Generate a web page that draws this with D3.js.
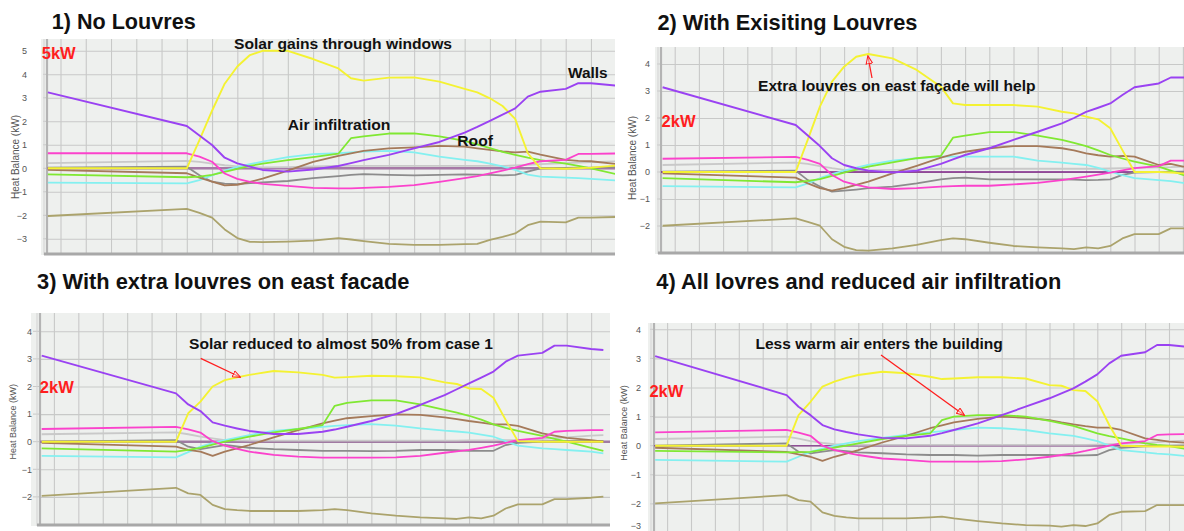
<!DOCTYPE html>
<html><head><meta charset="utf-8">
<script src="https://cdn.jsdelivr.net/npm/d3@7"></script>
<style>
html,body{margin:0;padding:0;background:#fff;}
svg{display:block;font-family:"Liberation Sans",Arial,sans-serif;}
</style>
</head><body>
<svg id="c" width="1184" height="531"></svg>
<script>
// ---- shared x values (hours) ----
const hours = [-0.5,5,5.5,6,6.5,7,7.5,8,9,10,11,11.5,12,13,14,15,16,16.5,17,17.5,18,18.5,19,20,20.5,21,22,22.5];

// ---- tick labels ----
const yTicks1 = [5,4,3,2,1,0,-1,-2,-3];
const yTicks2 = [4,3,2,1,0,-1,-2];
const yTicks3 = [4,3,2,1,0,-1,-2];
const yTicks4 = [4,3,2,1,0,-1,-2,-3];

// ---- texts ----
const titles = ["1) No Louvres","2) With Exisiting Louvres","3) With extra louvres on east facade","4) All lovres and reduced air infiltration"];
const peakLabels = ["5kW","2kW","2kW","2kW"];
const axisTitle = "Heat Balance (kW)";

// ---- Panel 1: No Louvres ----
const p1Walls  = [3.23,1.80,1.40,0.99,0.45,0.21,0.07,-0.07,-0.14,-0.05,0.10,0.22,0.35,0.57,0.85,1.12,1.52,1.76,2.02,2.28,2.55,3.05,3.26,3.38,3.62,3.62,3.52,3.48];
const p1Solar  = [0,0,1.20,2.45,3.60,4.33,4.82,5.00,5.00,4.65,4.25,3.83,3.73,3.86,3.87,3.69,3.38,3.23,2.98,2.65,2.10,0.64,0,-0.02,0,0.03,0.12,0.15];
const p1Pink   = [0.64,0.64,0.50,0.28,-0.22,-0.45,-0.58,-0.66,-0.75,-0.83,-0.85,-0.85,-0.83,-0.79,-0.72,-0.58,-0.42,-0.33,-0.22,-0.10,0.03,0.18,0.30,0.36,0.61,0.61,0.63,0.64];
const p1Green  = [-0.26,-0.38,-0.35,-0.28,-0.15,-0.02,0.10,0.20,0.35,0.48,0.62,1.28,1.36,1.48,1.49,1.36,1.17,1.02,0.86,0.70,0.57,0.45,0.35,0.20,0.10,0.00,-0.25,-0.32];
const p1Brown  = [-0.07,-0.21,-0.40,-0.57,-0.73,-0.70,-0.58,-0.44,-0.10,0.27,0.53,0.64,0.74,0.85,0.89,0.95,0.92,0.85,0.78,0.72,0.68,0.71,0.58,0.36,0.32,0.30,0.18,0.12];
const p1Cyan   = [-0.61,-0.64,-0.50,-0.30,-0.10,0.06,0.18,0.28,0.48,0.60,0.64,0.68,0.71,0.74,0.68,0.50,0.36,0.30,0.20,0.08,-0.07,-0.27,-0.35,-0.40,-0.42,-0.45,-0.52,-0.54];
const p1Gray   = [0.03,0.07,-0.30,-0.57,-0.65,-0.67,-0.63,-0.60,-0.54,-0.42,-0.33,-0.28,-0.25,-0.28,-0.30,-0.28,-0.26,-0.27,-0.28,-0.30,-0.28,-0.14,0.00,0.02,0.03,0.03,0.05,0.05];
const p1Silver = [0.22,0.32,0.27,0.20,0.13,0.08,0.05,0.04,0.05,0.08,0.10,0.10,0.10,0.10,0.10,0.10,0.10,0.10,0.10,0.10,0.12,0.15,0.18,0.22,0.24,0.26,0.30,0.32];
const p1Olive  = [-2.03,-1.73,-1.90,-2.10,-2.60,-2.97,-3.13,-3.14,-3.12,-3.08,-2.97,-3.03,-3.10,-3.22,-3.26,-3.26,-3.23,-3.22,-3.05,-2.92,-2.77,-2.42,-2.27,-2.30,-2.10,-2.10,-2.07,-2.06];

// ---- Panel 2: With existing louvres ----
const p2Walls  = [3.14,1.74,1.35,0.96,0.51,0.26,0.14,0.05,-0.02,0.05,0.30,0.47,0.63,0.88,1.19,1.49,1.80,2.00,2.23,2.38,2.54,2.85,3.14,3.28,3.50,3.50,3.45,3.42];
const p2Solar  = [0,0,1.20,2.42,3.35,3.90,4.27,4.37,4.21,3.78,3.16,2.54,2.48,2.48,2.48,2.42,2.23,2.17,2.05,1.95,1.62,0.81,0,0,-0.02,-0.05,-0.08,-0.10];
const p2Pink   = [0.49,0.56,0.45,0.30,-0.11,-0.36,-0.48,-0.57,-0.63,-0.60,-0.54,-0.52,-0.51,-0.51,-0.46,-0.40,-0.30,-0.24,-0.17,-0.10,-0.02,0.06,0.14,0.22,0.42,0.42,0.43,0.43];
const p2Green  = [-0.23,-0.38,-0.33,-0.26,-0.14,-0.02,0.09,0.20,0.36,0.51,0.60,1.27,1.35,1.48,1.48,1.35,1.19,1.08,0.96,0.80,0.63,0.50,0.38,0.20,0.05,-0.11,-0.20,-0.25];
const p2Brown  = [-0.05,-0.21,-0.42,-0.60,-0.69,-0.60,-0.48,-0.36,-0.05,0.23,0.53,0.65,0.75,0.88,0.96,0.96,0.88,0.80,0.69,0.62,0.57,0.60,0.57,0.26,0.30,0.20,0.12,0.10];
const p2Cyan   = [-0.52,-0.57,-0.42,-0.23,-0.08,0.05,0.16,0.26,0.42,0.51,0.57,0.57,0.57,0.57,0.57,0.42,0.35,0.30,0.26,0.15,0.01,-0.12,-0.23,-0.30,-0.34,-0.40,-0.45,-0.47];
const p2Gray   = [0.01,0.05,-0.30,-0.54,-0.73,-0.69,-0.65,-0.60,-0.54,-0.42,-0.27,-0.23,-0.21,-0.27,-0.27,-0.27,-0.27,-0.28,-0.30,-0.29,-0.27,-0.11,-0.02,0.00,0.00,0.01,0.02,0.02];
const p2Silver = [0.26,0.35,0.30,0.22,0.14,0.08,0.07,0.07,0.08,0.10,0.12,0.12,0.12,0.12,0.12,0.12,0.12,0.12,0.12,0.12,0.13,0.14,0.15,0.17,0.18,0.20,0.22,0.23];
const p2Olive  = [-1.99,-1.72,-1.85,-1.99,-2.49,-2.77,-2.89,-2.91,-2.83,-2.70,-2.52,-2.46,-2.49,-2.62,-2.74,-2.79,-2.83,-2.86,-2.79,-2.83,-2.74,-2.46,-2.30,-2.30,-2.09,-2.09,-2.08,-2.07];

// ---- Panel 3: extra louvres on east facade ----
const p3Walls  = [3.12,1.75,1.35,1.11,0.70,0.58,0.48,0.39,0.28,0.28,0.36,0.44,0.54,0.75,1.00,1.33,1.69,1.90,2.11,2.32,2.54,2.90,3.12,3.22,3.48,3.48,3.36,3.32];
const p3Solar  = [0,0,1.03,1.45,2.00,2.23,2.33,2.42,2.56,2.51,2.42,2.32,2.34,2.39,2.37,2.33,2.15,2.09,1.93,1.91,1.59,0.79,0.02,0,0,0,0,0];
const p3Pink   = [0.46,0.54,0.45,0.33,0.02,-0.14,-0.26,-0.36,-0.48,-0.54,-0.58,-0.58,-0.58,-0.58,-0.57,-0.51,-0.40,-0.35,-0.30,-0.22,-0.14,-0.04,0.06,0.14,0.36,0.39,0.42,0.42];
const p3Green  = [-0.24,-0.36,-0.30,-0.22,-0.11,0.00,0.09,0.18,0.34,0.46,0.60,1.30,1.41,1.50,1.50,1.35,1.15,1.05,0.94,0.80,0.63,0.50,0.39,0.21,0.10,0.00,-0.22,-0.33];
const p3Brown  = [-0.04,-0.18,-0.30,-0.36,-0.51,-0.36,-0.24,-0.12,0.16,0.42,0.66,0.76,0.85,0.93,0.99,0.97,0.88,0.82,0.75,0.69,0.63,0.63,0.57,0.30,0.22,0.14,0.06,0.00];
const p3Cyan   = [-0.51,-0.57,-0.38,-0.18,-0.05,0.06,0.15,0.24,0.39,0.46,0.54,0.57,0.60,0.64,0.58,0.48,0.40,0.37,0.33,0.26,0.18,0.02,-0.14,-0.24,-0.27,-0.30,-0.36,-0.42];
const p3Gray   = [0.00,0.06,-0.18,-0.27,-0.20,-0.12,-0.17,-0.22,-0.27,-0.30,-0.33,-0.33,-0.33,-0.34,-0.33,-0.30,-0.30,-0.31,-0.33,-0.33,-0.33,-0.12,-0.04,0.00,0.01,0.02,0.03,0.03];
const p3Silver = [0.27,0.34,0.27,0.18,0.12,0.06,0.05,0.04,0.04,0.04,0.04,0.04,0.04,0.04,0.04,0.04,0.04,0.04,0.05,0.05,0.05,0.06,0.06,0.10,0.13,0.16,0.22,0.24];
const p3Olive  = [-1.96,-1.67,-1.87,-1.93,-2.29,-2.44,-2.48,-2.51,-2.51,-2.51,-2.48,-2.44,-2.48,-2.60,-2.68,-2.74,-2.78,-2.80,-2.74,-2.78,-2.68,-2.42,-2.27,-2.27,-2.08,-2.08,-2.03,-1.99];

// ---- Panel 4: all louvres + reduced infiltration ----
const p4Walls  = [3.08,1.74,1.34,1.05,0.71,0.56,0.47,0.39,0.27,0.25,0.34,0.43,0.54,0.77,1.05,1.34,1.63,1.80,1.97,2.20,2.45,2.83,3.09,3.21,3.46,3.46,3.38,3.35];
const p4Solar  = [0,0,1.05,1.51,2.03,2.20,2.33,2.43,2.54,2.49,2.37,2.29,2.31,2.35,2.35,2.31,2.08,2.06,1.91,1.88,1.53,0.71,0,-0.02,-0.03,-0.03,-0.04,-0.04];
const p4Pink   = [0.46,0.54,0.45,0.34,0.00,-0.15,-0.24,-0.32,-0.44,-0.49,-0.55,-0.55,-0.55,-0.55,-0.53,-0.47,-0.38,-0.32,-0.26,-0.18,-0.09,0.00,0.08,0.16,0.37,0.39,0.40,0.40];
const p4Green  = [-0.18,-0.23,-0.22,-0.21,-0.14,-0.07,0.00,0.08,0.23,0.34,0.42,0.88,1.00,1.05,1.05,1.00,0.85,0.77,0.68,0.55,0.42,0.33,0.25,0.08,0.03,-0.01,-0.15,-0.20];
const p4Brown  = [-0.07,-0.21,-0.30,-0.38,-0.52,-0.38,-0.27,-0.15,0.11,0.34,0.60,0.70,0.80,0.92,1.00,0.96,0.88,0.80,0.73,0.67,0.62,0.62,0.54,0.25,0.20,0.14,0.08,0.05];
const p4Cyan   = [-0.49,-0.55,-0.38,-0.21,-0.10,0.00,0.08,0.16,0.27,0.37,0.46,0.50,0.54,0.62,0.60,0.54,0.42,0.38,0.34,0.25,0.16,0.00,-0.15,-0.23,-0.27,-0.30,-0.38,-0.40];
const p4Gray   = [0.00,0.08,-0.21,-0.26,-0.20,-0.15,-0.19,-0.23,-0.26,-0.30,-0.32,-0.32,-0.32,-0.34,-0.32,-0.32,-0.32,-0.33,-0.34,-0.33,-0.32,-0.15,-0.07,-0.02,-0.01,0.00,0.01,0.01];
const p4Silver = [0.23,0.31,0.24,0.16,0.10,0.05,0.04,0.03,0.03,0.03,0.03,0.03,0.03,0.03,0.03,0.03,0.03,0.03,0.03,0.03,0.04,0.05,0.06,0.10,0.12,0.15,0.19,0.20];
const p4Olive  = [-1.98,-1.70,-1.87,-1.92,-2.29,-2.41,-2.46,-2.50,-2.50,-2.50,-2.46,-2.44,-2.50,-2.59,-2.67,-2.73,-2.75,-2.78,-2.73,-2.76,-2.67,-2.38,-2.27,-2.25,-2.04,-2.04,-2.04,-2.04];

// ---- styles ----
const COL = {silver:"#c9c9c9", gray:"#8c8c8c", olive:"#aba36c", cyan:"#84f0f0", brown:"#a57a5a",
             green:"#80e832", pink:"#fb42cc", solar:"#f4f232", walls:"#9a42f2"};
const BG = "#eef0ee", GRID = "#c8c9c8", RED = "#ff1e1e";

const svg = d3.select("#c");
const defs = svg.append("defs");
defs.append("marker").attr("id","tri").attr("viewBox","0 0 10 10")
  .attr("refX",9).attr("refY",5).attr("markerWidth",9).attr("markerHeight",8)
  .attr("markerUnits","userSpaceOnUse").attr("orient","auto")
  .append("path").attr("d","M0,1 L10,5 L0,9 Z").attr("fill","#fff").attr("fill-opacity",0.4)
  .attr("stroke",RED).attr("stroke-width",1.3);

const panels = [
  {id:1, bg:[41,615,39,255], g0:60.5, gdx:25.26, zeroY:168.3, unit:23.5, axisX:47, labRight:27, ticks:yTicks1,
   zeroCol:"#a679a6", zeroW:2.6, titleX:51.7, titleY:28.5, titleW:144,
   kwX:41.7, kwY:59, ylabX:16, ylabY:157, ylabFs:10,
   series:[[p1Silver,"silver"],[p1Gray,"gray"],[p1Olive,"olive"],[p1Cyan,"cyan"],[p1Brown,"brown"],[p1Green,"green"],[p1Pink,"pink"],[p1Solar,"solar"],[p1Walls,"walls"]]},
  {id:2, bg:[655,1190,47,254], g0:674.7, gdx:24.2, zeroY:172, unit:27, axisX:661, labRight:650, ticks:yTicks2,
   zeroCol:"#7d1f86", zeroW:1.3, titleX:657.4, titleY:30, titleW:260,
   kwX:661.5, kwY:126.5, ylabX:633.5, ylabY:158, ylabFs:10,
   series:[[p2Silver,"silver"],[p2Gray,"gray"],[p2Olive,"olive"],[p2Cyan,"cyan"],[p2Brown,"brown"],[p2Green,"green"],[p2Pink,"pink"],[p2Solar,"solar"],[p2Walls,"walls"]]},
  {id:3, bg:[31,610,313,526], g0:53.9, gdx:24.42, zeroY:441.7, unit:27.6, axisX:40, labRight:32, ticks:yTicks3,
   zeroCol:"#a07aa2", zeroW:2.6, titleX:37, titleY:289, titleW:372.5,
   kwX:39.8, kwY:393.3, ylabX:13.5, ylabY:421.7, ylabFs:9,
   series:[[p3Silver,"silver"],[p3Gray,"gray"],[p3Olive,"olive"],[p3Cyan,"cyan"],[p3Brown,"brown"],[p3Green,"green"],[p3Pink,"pink"],[p3Solar,"solar"],[p3Walls,"walls"]]},
  {id:4, bg:[648,1190,323,545], g0:667.1, gdx:23.9, zeroY:445.7, unit:29.1, axisX:654, labRight:641, ticks:yTicks4,
   zeroCol:"#8e4f94", zeroW:1.6, titleX:656.3, titleY:289, titleW:405,
   kwX:649.4, kwY:396.5, ylabX:624.5, ylabY:423, ylabFs:9,
   series:[[p4Silver,"silver"],[p4Gray,"gray"],[p4Olive,"olive"],[p4Cyan,"cyan"],[p4Brown,"brown"],[p4Green,"green"],[p4Pink,"pink"],[p4Solar,"solar"],[p4Walls,"walls"]]}
];

panels.forEach((p, pi) => {
  const [bx0,bx1,by0,by1] = p.bg;
  const g = svg.append("g");
  const x = d3.scaleLinear().domain([0,1]).range([p.g0, p.g0 + p.gdx]);
  const y = d3.scaleLinear().domain([0,1]).range([p.zeroY, p.zeroY - p.unit]);

  defs.append("clipPath").attr("id","clip"+p.id).append("rect")
    .attr("x",p.axisX).attr("y",by0).attr("width",bx1-p.axisX).attr("height",by1-by0);

  g.append("rect").attr("x",bx0).attr("y",by0).attr("width",bx1-bx0).attr("height",by1-by0).attr("fill",BG);

  // vertical grid via axis
  const hGrid = d3.range(0,24).filter(h => x(h) > p.axisX + 2 && x(h) < bx1 - 1);
  const xa = g.append("g").attr("transform",`translate(0,${by1})`)
    .call(d3.axisBottom(x).tickValues(hGrid).tickSize(-(by1-by0)).tickSizeOuter(0).tickFormat(""));
  xa.select(".domain").remove();
  xa.selectAll("line").attr("stroke",GRID).attr("stroke-width",1.1);

  // horizontal grid + tick labels via axis
  const ya = g.append("g").attr("transform",`translate(${p.axisX},0)`)
    .call(d3.axisLeft(y).tickValues(p.ticks).tickSizeInner(-(bx1-p.axisX)).tickSizeOuter(0)
      .tickPadding(p.axisX - p.labRight).tickFormat(d3.format("d")));
  ya.select(".domain").remove();
  ya.selectAll("line").attr("stroke",GRID).attr("stroke-width",1.1);
  ya.selectAll("text").attr("font-size",9).attr("fill","#555").attr("font-family","Liberation Sans, Arial, sans-serif")
    .attr("dy", d => (y(d) > 524 ? "-0.55em" : "0.32em"));
  // small stubs left of the axis
  g.selectAll(".stub").data(p.ticks.filter(t => y(t) > by0 && y(t) < by1)).enter().append("line")
    .attr("x1",bx0+2).attr("x2",p.axisX).attr("y1",d=>y(d)).attr("y2",d=>y(d)).attr("stroke",GRID);

  // axis lines
  g.append("line").attr("x1",p.axisX).attr("x2",p.axisX).attr("y1",by0).attr("y2",by1)
    .attr("stroke","#b4b4b4").attr("stroke-width",2.2);
  g.append("line").attr("x1",p.axisX-3).attr("x2",p.axisX-3).attr("y1",by0).attr("y2",by1)
    .attr("stroke","#d2d2d2").attr("stroke-width",1);
  g.append("line").attr("x1",p.axisX-3).attr("x2",bx1).attr("y1",by1-1).attr("y2",by1-1)
    .attr("stroke","#a8a8a8").attr("stroke-width",3);

  const plot = g.append("g").attr("clip-path",`url(#clip${p.id})`);
  // zero reference line
  plot.append("line").attr("x1",p.axisX).attr("x2",bx1).attr("y1",y(0)).attr("y2",y(0))
    .attr("stroke",p.zeroCol).attr("stroke-width",p.zeroW);

  const line = d3.line().x((d,i) => x(hours[i])).y(d => y(d));
  p.series.forEach(([vals, key]) => {
    plot.append("path").attr("d", line(vals)).attr("fill","none")
      .attr("stroke",COL[key]).attr("stroke-width", key==="walls"||key==="solar" ? 1.9 : 1.8)
      .attr("stroke-linejoin","round");
  });

  // axis title
  g.append("text").attr("transform",`translate(${p.ylabX},${p.ylabY}) rotate(-90)`)
    .attr("text-anchor","middle").attr("dominant-baseline","middle")
    .attr("font-size",p.ylabFs).attr("fill","#555").text(axisTitle);

  // panel title
  svg.append("text").attr("x",p.titleX).attr("y",p.titleY).attr("font-size",21.5).attr("font-weight","bold")
    .attr("fill","#111").attr("textLength",p.titleW).attr("lengthAdjust","spacingAndGlyphs").text(titles[pi]);

  // red kW label
  svg.append("text").attr("x",p.kwX).attr("y",p.kwY).attr("font-size",16.7).attr("font-weight","bold")
    .attr("fill",RED).attr("textLength",34).attr("lengthAdjust","spacingAndGlyphs").text(peakLabels[pi]);
});

// ---- annotations ----
function note(txt, x0, base, w) {
  svg.append("text").attr("x",x0).attr("y",base).attr("font-size",15.5).attr("font-weight","bold")
    .attr("fill","#111").attr("textLength",w).attr("lengthAdjust","spacingAndGlyphs").text(txt);
}
note("Solar gains through windows", 234, 48.5, 218);
note("Air infiltration", 287.8, 129.5, 102.6);
note("Roof", 457.3, 145.5, 35.6);
note("Walls", 568, 77.5, 39.7);
note("Extra louvres on east façade will help", 758, 90.5, 277.6);
note("Solar reduced to almost 50% from case 1", 189, 349, 304);
note("Less warm air enters the building", 755.4, 348.5, 247.4);

function arrow(x1,y1,x2,y2){
  svg.append("line").attr("x1",x1).attr("y1",y1).attr("x2",x2).attr("y2",y2)
    .attr("stroke",RED).attr("stroke-width",1.3).attr("marker-end","url(#tri)");
}
arrow(872, 78, 868, 56.5);
arrow(200.7, 358.3, 240, 377);
arrow(881, 355, 964, 415);
</script>
</body></html>
